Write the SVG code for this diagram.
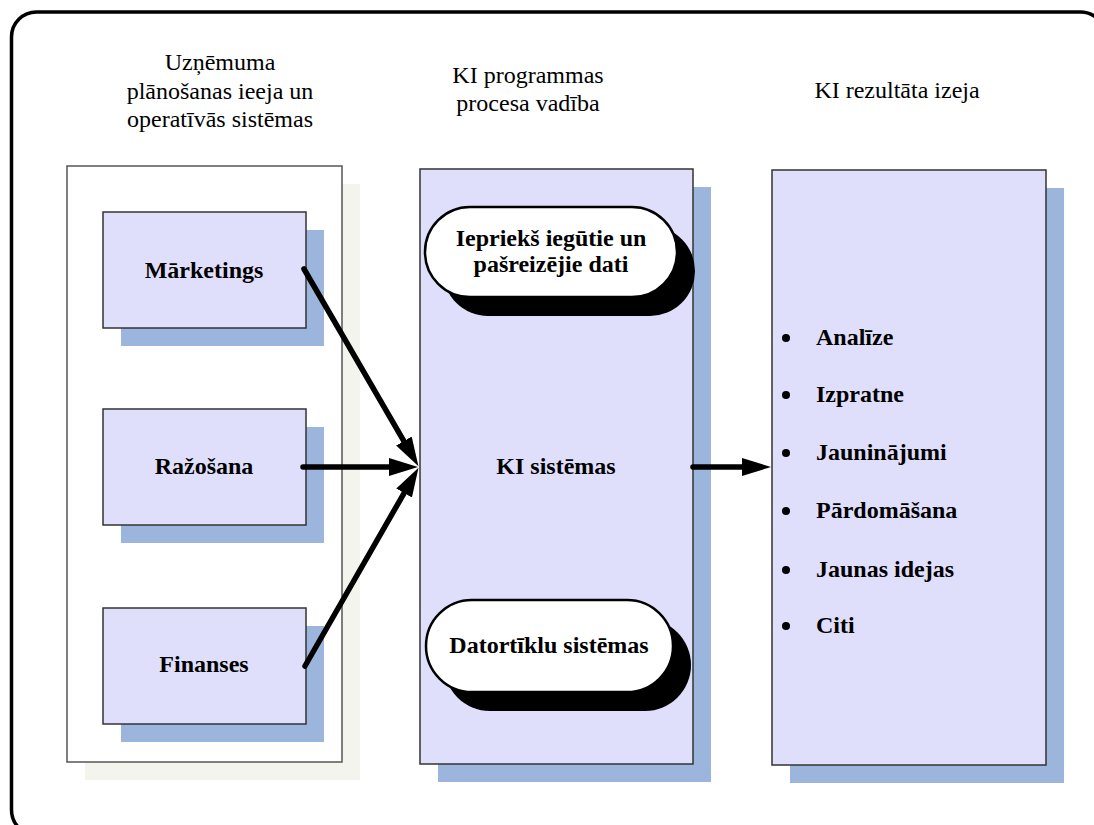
<svg xmlns="http://www.w3.org/2000/svg" width="1094" height="825" viewBox="0 0 1094 825">
  <style>
    .hdr { font-family: "Liberation Serif", "Times New Roman", serif; font-size: 24px; fill: #000; text-anchor: middle; }
    .lbl { font-family: "Liberation Serif", "Times New Roman", serif; font-size: 24px; font-weight: bold; fill: #000; text-anchor: middle; }
    .item { font-family: "Liberation Serif", "Times New Roman", serif; font-size: 24px; font-weight: bold; fill: #000; }
    .box { fill: #dfdffc; stroke: #333; stroke-width: 1.5; }
    .shadow { fill: #9bb5dd; }
    .pill { fill: #fff; stroke: #000; stroke-width: 2.5; }
    .pillshadow { fill: #000; }
    .arrow { stroke: #000; stroke-width: 5.5; stroke-linecap: round; fill: none; marker-end: url(#head); }
  </style>
  <defs>
    <marker id="head" markerUnits="userSpaceOnUse" viewBox="0 -10 30 20" markerWidth="30" markerHeight="20" refX="2" refY="0" orient="auto">
      <path d="M0,-9 L29,0 L0,9 Z" fill="#000"/>
    </marker>
  </defs>

  <rect width="1094" height="825" fill="#fff"/>
  <!-- outer frame -->
  <rect x="11.5" y="12" width="1094" height="823" rx="25" fill="none" stroke="#000" stroke-width="3.5"/>

  <!-- column headings -->
  <g id="headings">
    <text class="hdr" x="220" y="70">Uzņēmuma</text>
    <text class="hdr" x="220" y="99">plānošanas ieeja un</text>
    <text class="hdr" x="220" y="127">operatīvās sistēmas</text>
    <text class="hdr" x="528" y="83">KI programmas</text>
    <text class="hdr" x="528" y="111">procesa vadība</text>
    <text class="hdr" x="897" y="98">KI rezultāta izeja</text>
  </g>

  <!-- input panel -->
  <g id="inputs">
    <rect x="85" y="184" width="275" height="596" fill="#f4f4ee"/>
    <rect x="67" y="166" width="275" height="596" fill="#fff" stroke="#555" stroke-width="1.5"/>
  </g>

  <g id="marketing">
    <rect class="shadow" x="121" y="230" width="203" height="116"/>
    <rect class="box" x="103" y="212" width="203" height="116"/>
    <text class="lbl" x="204" y="278">Mārketings</text>
  </g>

  <g id="production">
    <rect class="shadow" x="121" y="427" width="203" height="116"/>
    <rect class="box" x="103" y="409" width="203" height="116"/>
    <text class="lbl" x="204" y="474">Ražošana</text>
  </g>

  <g id="finance">
    <rect class="shadow" x="121" y="626" width="203" height="116"/>
    <rect class="box" x="103" y="608" width="203" height="116"/>
    <text class="lbl" x="204" y="672">Finanses</text>
  </g>

  <!-- central processing panel -->
  <g id="ki-system">
    <rect class="shadow" x="438" y="187" width="273" height="595"/>
    <rect class="box" x="420" y="169" width="273" height="595"/>
    <text class="lbl" x="556" y="474">KI sistēmas</text>
  </g>

  <g id="data">
    <rect class="pillshadow" x="443" y="226" width="252" height="90" rx="45"/>
    <rect class="pill" x="425" y="207" width="252" height="90" rx="45"/>
    <text class="lbl" x="551" y="246">Iepriekš iegūtie un</text>
    <text class="lbl" x="551" y="272">pašreizējie dati</text>
  </g>

  <g id="networks">
    <rect class="pillshadow" x="444" y="619" width="247" height="92" rx="46"/>
    <rect class="pill" x="426" y="600" width="247" height="92" rx="46"/>
    <text class="lbl" x="549" y="653">Datortīklu sistēmas</text>
  </g>

  <!-- output panel -->
  <g id="outputs">
    <rect class="shadow" x="790" y="188" width="274" height="595"/>
    <rect class="box" x="772" y="170" width="274" height="595"/>
    <circle cx="786" cy="338" r="4"/>
    <text class="item" x="816" y="345">Analīze</text>
    <circle cx="786" cy="395" r="4"/>
    <text class="item" x="816" y="402">Izpratne</text>
    <circle cx="786" cy="453" r="4"/>
    <text class="item" x="816" y="460">Jauninājumi</text>
    <circle cx="786" cy="511" r="4"/>
    <text class="item" x="816" y="518">Pārdomāšana</text>
    <circle cx="786" cy="570" r="4"/>
    <text class="item" x="816" y="577">Jaunas idejas</text>
    <circle cx="786" cy="626" r="4"/>
    <text class="item" x="816" y="633">Citi</text>
  </g>

  <!-- connectors -->
  <g id="connectors">
    <line class="arrow" x1="304" y1="269" x2="404.9" y2="442.8"/>
    <line class="arrow" x1="303" y1="467" x2="391" y2="467"/>
    <line class="arrow" x1="305" y1="666" x2="405.1" y2="491.3"/>
    <line class="arrow" x1="693" y1="467" x2="744" y2="467"/>
  </g>
</svg>
